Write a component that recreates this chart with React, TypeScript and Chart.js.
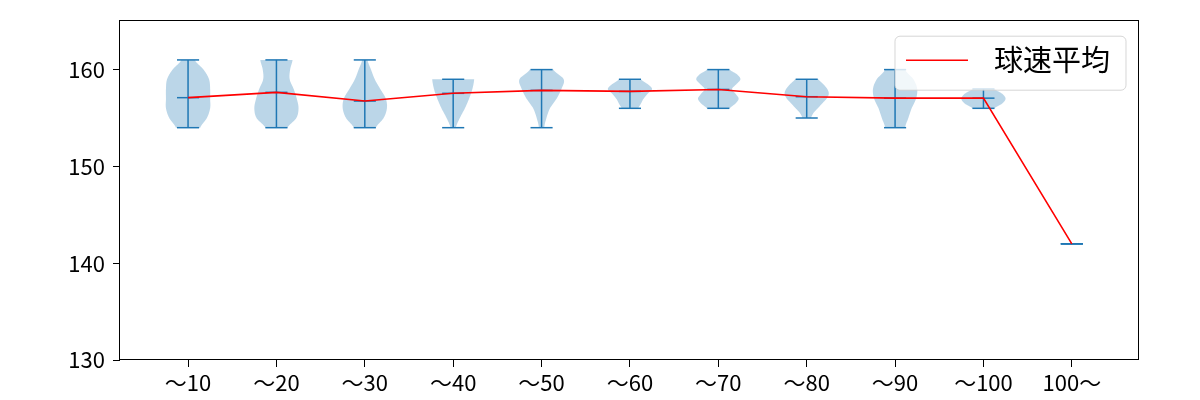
import React, { useEffect, useRef } from "react";
import { Chart, registerables } from "chart.js";

Chart.register(...registerables);

// ---- data ----
const categories = ["〜10", "〜20", "〜30", "〜40", "〜50", "〜60", "〜70", "〜80", "〜90", "〜100", "100〜"];
const meanSpeed = [157.1, 157.65, 156.75, 157.55, 157.85, 157.75, 157.95, 157.2, 157.05, 157.05, 142.0];
const minSpeed = [154, 154, 154, 154, 154, 156, 156, 155, 154, 156, 142];
const maxSpeed = [161, 161, 161, 159, 160, 159, 160, 159, 160, 158, 142];
// relative density (half-width fraction), sampled evenly from min to max (bottom -> top)
const density1 = [0.55, 0.85, 1.0, 1.0, 1.0, 0.95, 0.7, 0.3];
const density2 = [0.5, 0.9, 1.0, 0.92, 0.78, 0.6, 0.62, 0.73];
const density3 = [0.5, 0.85, 1.0, 0.95, 0.7, 0.45, 0.28, 0.12];
const density4 = [0.12, 0.3, 0.53, 0.72, 0.87, 0.95];
const density5 = [0.12, 0.22, 0.38, 0.68, 0.9, 1.0, 0.53];
const density6 = [0.38, 0.5, 0.62, 0.8, 1.0, 0.8, 0.5];
const density7 = [0.52, 0.78, 0.92, 0.78, 0.62, 0.82, 1.0, 0.85, 0.52];
const density8 = [0.2, 0.3, 0.5, 0.7, 0.9, 1.0, 0.93, 0.75, 0.53];
const density9 = [0.45, 0.6, 0.75, 0.95, 1.0, 0.83, 0.45];
const density10 = [0.5, 0.85, 1.0, 0.85, 0.5];
const density11: number[] = [];
const densities = [density1, density2, density3, density4, density5, density6, density7, density8, density9, density10, density11];
const yTicks = [130, 140, 150, 160];
const seriesLabel = "球速平均";

const FONT = '"Noto Sans CJK JP", "Noto Sans", sans-serif';
const BLUE = "#1f77b4";

function catmull(pts: number[], t: number): number {
  const n = pts.length;
  const i = Math.min(Math.floor(t), n - 2);
  const u = t - i;
  const p0 = pts[Math.max(i - 1, 0)];
  const p1 = pts[i];
  const p2 = pts[i + 1];
  const p3 = pts[Math.min(i + 2, n - 1)];
  const u2 = u * u, u3 = u2 * u;
  return 0.5 * (2 * p1 + (-p0 + p2) * u + (2 * p0 - 5 * p1 + 4 * p2 - p3) * u2 + (-p0 + 3 * p1 - 3 * p2 + p3) * u3);
}

const violinPlugin = {
  id: "violins",
  beforeDatasetsDraw(chart: any) {
    const ctx = chart.ctx;
    const xs = chart.scales.x;
    const ys = chart.scales.y;
    ctx.save();
    densities.forEach((d, i) => {
      if (d.length < 2) return;
      const pos = i + 1;
      const cx = xs.getPixelForValue(pos);
      const full = xs.getPixelForValue(pos + 0.25) - cx;
      const lo = minSpeed[i], hi = maxSpeed[i];
      const steps = 60;
      const right: [number, number][] = [];
      for (let s = 0; s <= steps; s++) {
        const t = (s / steps) * (d.length - 1);
        const w = Math.max(0, catmull(d, t)) * full;
        const v = lo + (hi - lo) * (s / steps);
        right.push([w, ys.getPixelForValue(v)]);
      }
      ctx.beginPath();
      right.forEach(([w, y], k) => {
        if (k === 0) ctx.moveTo(cx + w, y);
        else ctx.lineTo(cx + w, y);
      });
      for (let k = right.length - 1; k >= 0; k--) ctx.lineTo(cx - right[k][0], right[k][1]);
      ctx.closePath();
      ctx.fillStyle = "rgba(31,119,180,0.3)";
      ctx.fill();
    });
    ctx.strokeStyle = BLUE;
    ctx.lineWidth = 1.5;
    const hline = (pos: number, v: number) => {
      const x0 = xs.getPixelForValue(pos - 0.125);
      const x1 = xs.getPixelForValue(pos + 0.125);
      const y = ys.getPixelForValue(v);
      ctx.beginPath();
      ctx.moveTo(x0, y);
      ctx.lineTo(x1, y);
      ctx.stroke();
    };
    categories.forEach((_, i) => {
      const pos = i + 1;
      hline(pos, maxSpeed[i]);
      hline(pos, minSpeed[i]);
      const cx = xs.getPixelForValue(pos);
      ctx.beginPath();
      ctx.moveTo(cx, ys.getPixelForValue(minSpeed[i]));
      ctx.lineTo(cx, ys.getPixelForValue(maxSpeed[i]));
      ctx.stroke();
      hline(pos, meanSpeed[i]);
    });
    ctx.restore();
  },
  afterDatasetsDraw(chart: any) {
    const { ctx, chartArea } = chart;
    ctx.save();
    ctx.strokeStyle = "#000";
    ctx.lineWidth = 1;
    const l = Math.round(chartArea.left) - 0.5;
    const t = Math.round(chartArea.top) - 0.5;
    const r = Math.round(chartArea.right) - 0.5;
    const b = Math.round(chartArea.bottom) - 0.5;
    ctx.strokeRect(l, t, r - l, b - t);
    ctx.restore();
  },
  afterDraw(chart: any) {
    const { ctx, chartArea } = chart;
    const ds = chart.data.datasets[0];
    ctx.save();
    ctx.font = `29px ${FONT}`;
    const tw = ctx.measureText(ds.label).width;
    const bw = 11 + 62 + 26 + tw + 16;
    const bh = 54;
    const bx = chartArea.right - 13 - bw;
    const by = chartArea.top + 15;
    const rr = 5;
    ctx.beginPath();
    ctx.moveTo(bx + rr, by);
    ctx.arcTo(bx + bw, by, bx + bw, by + bh, rr);
    ctx.arcTo(bx + bw, by + bh, bx, by + bh, rr);
    ctx.arcTo(bx, by + bh, bx, by, rr);
    ctx.arcTo(bx, by, bx + bw, by, rr);
    ctx.closePath();
    ctx.fillStyle = "rgba(255,255,255,0.8)";
    ctx.fill();
    ctx.strokeStyle = "rgba(204,204,204,0.8)";
    ctx.lineWidth = 1;
    ctx.stroke();
    const ly = by + 24;
    ctx.beginPath();
    ctx.moveTo(bx + 11, ly);
    ctx.lineTo(bx + 73, ly);
    ctx.strokeStyle = ds.borderColor;
    ctx.lineWidth = ds.borderWidth;
    ctx.stroke();
    ctx.fillStyle = "#000";
    ctx.textBaseline = "middle";
    ctx.textAlign = "left";
    ctx.fillText(ds.label, bx + 99, ly);
    ctx.restore();
  },
};

export default function App() {
  const ref = useRef<HTMLCanvasElement | null>(null);
  useEffect(() => {
    document.body.style.margin = "0";
    if (!ref.current) return;
    const chart = new Chart(ref.current, {
      type: "line",
      data: {
        datasets: [
          {
            label: seriesLabel,
            data: meanSpeed.map((m, i) => ({ x: i + 1, y: m })),
            borderColor: "#ff0000",
            borderWidth: 1.6,
            pointRadius: 0,
            tension: 0,
            fill: false,
          },
        ],
      },
      options: {
        animation: false,
        responsive: false,
        devicePixelRatio: 1,
        layout: { padding: { top: 20, right: 61, left: 0, bottom: 0 } },
        plugins: { legend: { display: false }, tooltip: { enabled: false } },
        scales: {
          x: {
            type: "linear",
            min: 0.23,
            max: 11.76,
            afterBuildTicks: (s: any) => {
              s.ticks = categories.map((_, i) => ({ value: i + 1 }));
            },
            afterFit: (s: any) => {
              s.height = 40;
            },
            grid: { drawOnChartArea: false, drawTicks: true, tickLength: 7, color: "#000", lineWidth: 1 },
            border: { display: false },
            ticks: {
              autoSkip: false,
              maxRotation: 0,
              padding: 2,
              color: "#000",
              font: { family: FONT, size: 22 },
              callback: (v: any) => categories[Math.round(v) - 1] ?? "",
            },
          },
          y: {
            type: "linear",
            min: 130,
            max: 165,
            afterBuildTicks: (s: any) => {
              s.ticks = yTicks.map((v) => ({ value: v }));
            },
            afterFit: (s: any) => {
              s.width = 120;
            },
            grid: { drawOnChartArea: false, drawTicks: true, tickLength: 7, color: "#000", lineWidth: 1 },
            border: { display: false },
            ticks: {
              padding: 8,
              color: "#000",
              font: { family: FONT, size: 22 },
              callback: (v: any) => String(v),
            },
          },
        },
      },
      plugins: [violinPlugin],
    } as any);
    return () => chart.destroy();
  }, []);
  return (
    <div style={{ width: 1200, height: 400 }}>
      <canvas ref={ref} width={1200} height={400} style={{ display: "block" }} />
    </div>
  );
}
